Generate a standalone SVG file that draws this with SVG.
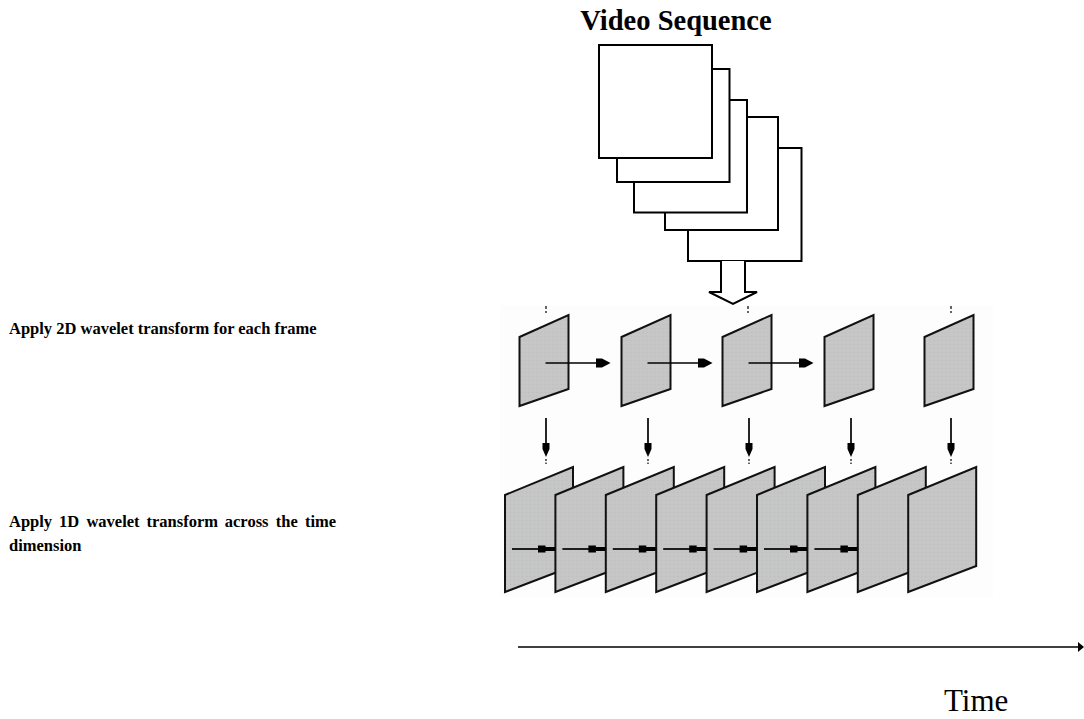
<svg xmlns="http://www.w3.org/2000/svg" width="1084" height="719" viewBox="0 0 1084 719">
  <style>
    .bold { font-family: "Liberation Serif", "Times New Roman", serif; font-weight: bold; fill: #000; }
    .plain { font-family: "Liberation Serif", "Times New Roman", serif; fill: #000; }
    .frame { fill: #fff; stroke: #000; stroke-width: 2; }
    .panel { fill: url(#grain); stroke: #111; stroke-width: 2; stroke-linejoin: miter; }
    .link { stroke: #000; stroke-width: 1.7; fill: none; }
    .tick { stroke: #333; stroke-width: 1.5; fill: none; }
    .head { fill: #000; }
  </style>
  <defs>
    <!-- speckled grey used for the wavelet planes -->
    <pattern id="grain" width="4" height="4" patternUnits="userSpaceOnUse">
      <rect width="4" height="4" fill="#c6c6c6"/>
      <rect x="1" y="1" width="1" height="1" fill="#b8bcb8"/>
    </pattern>
    <!-- 2D plane, top row -->
    <polygon id="plane2d" class="panel" points="0,22 49,0 49,74 0,91"/>
    <!-- temporal plane, bottom row -->
    <polygon id="plane1d" class="panel" points="0,28 68,0 68,99 0,125"/>
  </defs>

  <rect width="1084" height="719" fill="#fff"/>
  <rect x="500" y="305" width="493" height="292" fill="#fdfdfd"/>

  <!-- labels -->
  <text class="bold" x="676" y="30" font-size="28.5" text-anchor="middle">Video Sequence</text>
  <text class="bold" x="9" y="334" font-size="16.5">Apply 2D wavelet transform for each frame</text>
  <text class="bold" font-size="16.5" y="527">
    <tspan x="9">Apply</tspan><tspan x="59.1">1D</tspan><tspan x="86.4">wavelet</tspan><tspan x="146.5">transform</tspan><tspan x="224.8">across</tspan><tspan x="275.8">the</tspan><tspan x="305">time</tspan>
  </text>
  <text class="bold" x="9" y="551" font-size="16.5">dimension</text>
  <text class="plain" x="944" y="711" font-size="31">Time</text>

  <!-- stacked video frames, back to front -->
  <g id="sequence">
    <rect class="frame" x="688" y="148" width="113.5" height="113"/>
    <rect class="frame" x="665" y="117" width="113" height="113"/>
    <rect class="frame" x="634" y="100" width="113" height="112.5"/>
    <rect class="frame" x="617" y="69" width="112.5" height="113"/>
    <rect class="frame" x="599" y="45" width="113" height="113"/>
  </g>

  <!-- hollow arrow into the transform stage -->
  <g id="input-arrow">
    <path class="frame" d="M721,261 V292 H709 L733,304 L757,292 H745 V261"/>
  </g>

  <!-- top row: per-frame 2D transform -->
  <g id="frames2d">
    <use href="#plane2d" x="519.5" y="315"/>
    <use href="#plane2d" x="621.5" y="315"/>
    <use href="#plane2d" x="722.5" y="315"/>
    <use href="#plane2d" x="824.5" y="315"/>
    <use href="#plane2d" x="924.5" y="315"/>
  </g>

  <!-- bottom row: temporal transform planes -->
  <g id="frames1d">
    <use href="#plane1d" x="505" y="467"/>
    <use href="#plane1d" x="555.4" y="467"/>
    <use href="#plane1d" x="605.8" y="467"/>
    <use href="#plane1d" x="656.2" y="467"/>
    <use href="#plane1d" x="706.6" y="467"/>
    <use href="#plane1d" x="757" y="467"/>
    <use href="#plane1d" x="807.4" y="467"/>
    <use href="#plane1d" x="857.8" y="467"/>
    <use href="#plane1d" x="908.2" y="467"/>
  </g>

  <g id="connectors">
    <!-- frame-to-frame arrows, top row -->
    <g>
      <line class="link" x1="545.5" y1="363" x2="600" y2="363"/>
      <path class="head" d="M596,358.5 H602 L610.5,363 L602,367.5 H596 Z"/>
      <line class="link" x1="647.5" y1="363" x2="702" y2="363"/>
      <path class="head" d="M698,358.5 H704 L712.5,363 L704,367.5 H698 Z"/>
      <line class="link" x1="748.5" y1="363" x2="803" y2="363"/>
      <path class="head" d="M799,358.5 H805 L813.5,363 L805,367.5 H799 Z"/>
    </g>
    <!-- downward arrows between rows -->
    <g>
      <line class="link" x1="546" y1="418" x2="546" y2="446"/>
      <path class="head" d="M542.5,443 H549.5 V449 L546,457 L542.5,449 Z"/>
      <line class="tick" x1="546" y1="459" x2="546" y2="464" stroke-dasharray="2,1.5"/>
      <line class="link" x1="648" y1="418" x2="648" y2="446"/>
      <path class="head" d="M644.5,443 H651.5 V449 L648,457 L644.5,449 Z"/>
      <line class="tick" x1="648" y1="459" x2="648" y2="464" stroke-dasharray="2,1.5"/>
      <line class="link" x1="749" y1="418" x2="749" y2="446"/>
      <path class="head" d="M745.5,443 H752.5 V449 L749,457 L745.5,449 Z"/>
      <line class="tick" x1="749" y1="459" x2="749" y2="464" stroke-dasharray="2,1.5"/>
      <line class="link" x1="851" y1="418" x2="851" y2="446"/>
      <path class="head" d="M847.5,443 H854.5 V449 L851,457 L847.5,449 Z"/>
      <line class="tick" x1="851" y1="459" x2="851" y2="464" stroke-dasharray="2,1.5"/>
      <line class="link" x1="951" y1="418" x2="951" y2="446"/>
      <path class="head" d="M947.5,443 H954.5 V449 L951,457 L947.5,449 Z"/>
      <line class="tick" x1="951" y1="459" x2="951" y2="464" stroke-dasharray="2,1.5"/>
    </g>
    <!-- small marks above the top row -->
    <g>
      <line class="tick" x1="546" y1="306" x2="546" y2="313" stroke-dasharray="3,2"/>
      <line class="tick" x1="748" y1="306" x2="748" y2="313" stroke-dasharray="3,2"/>
      <line class="tick" x1="951" y1="306" x2="951" y2="313" stroke-dasharray="3,2"/>
    </g>
    <!-- temporal arrows, bottom row -->
    <g>
      <line class="link" x1="512" y1="549" x2="540" y2="549"/>
      <rect class="head" x="538" y="545.5" width="7.5" height="7"/>
      <rect class="head" x="545" y="547" width="10" height="4"/>
      <line class="link" x1="562.4" y1="549" x2="590.4" y2="549"/>
      <rect class="head" x="588.4" y="545.5" width="7.5" height="7"/>
      <rect class="head" x="595.4" y="547" width="10" height="4"/>
      <line class="link" x1="612.8" y1="549" x2="640.8" y2="549"/>
      <rect class="head" x="638.8" y="545.5" width="7.5" height="7"/>
      <rect class="head" x="645.8" y="547" width="10" height="4"/>
      <line class="link" x1="663.2" y1="549" x2="691.2" y2="549"/>
      <rect class="head" x="689.2" y="545.5" width="7.5" height="7"/>
      <rect class="head" x="696.2" y="547" width="10" height="4"/>
      <line class="link" x1="713.6" y1="549" x2="741.6" y2="549"/>
      <rect class="head" x="739.6" y="545.5" width="7.5" height="7"/>
      <rect class="head" x="746.6" y="547" width="10" height="4"/>
      <line class="link" x1="764" y1="549" x2="792" y2="549"/>
      <rect class="head" x="790" y="545.5" width="7.5" height="7"/>
      <rect class="head" x="797" y="547" width="10" height="4"/>
      <line class="link" x1="814.4" y1="549" x2="842.4" y2="549"/>
      <rect class="head" x="840.4" y="545.5" width="7.5" height="7"/>
      <rect class="head" x="847.4" y="547" width="10" height="4"/>
    </g>
    <!-- time axis -->
    <g>
      <line class="link" x1="518" y1="647" x2="1080" y2="647"/>
      <path class="head" d="M1078,642 L1084,647 L1078,652 Z"/>
    </g>
  </g>
</svg>
